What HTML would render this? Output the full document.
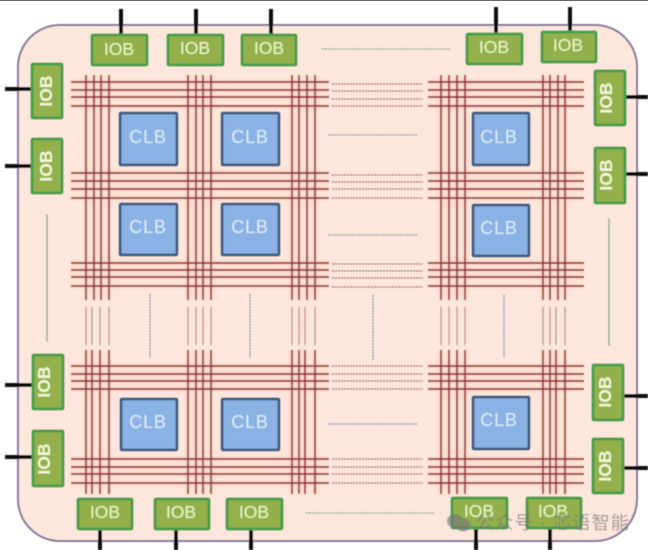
<!DOCTYPE html>
<html><head><meta charset="utf-8"><style>
html,body{margin:0;padding:0;background:#fff}
svg{display:block}
.i{font-family:"Liberation Sans",sans-serif;font-size:17.5px;fill:#eef5c4;text-anchor:middle}
.c{font-family:"Liberation Sans",sans-serif;font-size:18px;fill:#dcecf8;text-anchor:middle;letter-spacing:.8px}
.v{font-weight:bold;fill:#f2f7d4}
</style></head><body>
<svg width="648" height="550" viewBox="0 0 648 550" xmlns="http://www.w3.org/2000/svg">
<defs><filter id="b" x="-5%" y="-5%" width="110%" height="110%"><feGaussianBlur stdDeviation="0.5"/></filter>
<filter id="g" x="-5%" y="-5%" width="110%" height="110%"><feGaussianBlur stdDeviation="1.6"/></filter></defs>
<rect width="648" height="1" fill="#666"/>
<g filter="url(#b)">
<rect x="18" y="25" width="619" height="516" rx="42" fill="#fde7dc" stroke="#85759a" stroke-width="2"/>
<g filter="url(#g)" stroke="#ffb9ac" stroke-width="3.5" opacity=".55">
<path d="M71 82H329M71 90H329M71 97H329M71 106H329M71 173H329M71 181H329M71 189H329M71 198H329M71 263H329M71 270H329M71 277H329M71 286H329M71 366H329M71 374H329M71 381H329M71 389H329M71 459H329M71 467H329M71 474H329M71 483H329"/>
<path d="M428 82H584M428 90H584M428 97H584M428 106H584M428 173H584M428 181H584M428 189H584M428 198H584M428 263H584M428 270H584M428 277H584M428 286H584M428 366H584M428 374H584M428 381H584M428 389H584M428 459H584M428 467H584M428 474H584M428 483H584"/>
<path d="M86 75V300M94 75V300M101 75V300M109 75V300M188 75V300M196 75V300M203 75V300M211 75V300M292 75V300M299 75V300M307 75V300M315 75V300M441 75V300M449 75V300M457 75V300M465 75V300M543 75V300M550 75V300M558 75V300M565 75V300"/>
<path d="M86 350V494M92 350V494M100 350V494M109 350V494M188 350V494M196 350V494M203 350V494M211 350V494M292 350V494M299 350V494M305 350V494M315 350V494M441 350V494M449 350V494M457 350V494M465 350V494M543 350V494M550 350V494M556 350V494M565 350V494"/>
</g>
<g stroke="#8f3535" stroke-width="1.7" fill="none">
<path d="M71 82H329M71 90H329M71 97H329M71 106H329M71 173H329M71 181H329M71 189H329M71 198H329M71 263H329M71 270H329M71 277H329M71 286H329M71 366H329M71 374H329M71 381H329M71 389H329M71 459H329M71 467H329M71 474H329M71 483H329"/>
<path d="M428 82H584M428 90H584M428 97H584M428 106H584M428 173H584M428 181H584M428 189H584M428 198H584M428 263H584M428 270H584M428 277H584M428 286H584M428 366H584M428 374H584M428 381H584M428 389H584M428 459H584M428 467H584M428 474H584M428 483H584"/>
<path d="M86 75V300M94 75V300M101 75V300M109 75V300M188 75V300M196 75V300M203 75V300M211 75V300M292 75V300M299 75V300M307 75V300M315 75V300M441 75V300M449 75V300M457 75V300M465 75V300M543 75V300M550 75V300M558 75V300M565 75V300"/>
<path d="M86 350V494M92 350V494M100 350V494M109 350V494M188 350V494M196 350V494M203 350V494M211 350V494M292 350V494M299 350V494M305 350V494M315 350V494M441 350V494M449 350V494M457 350V494M465 350V494M543 350V494M550 350V494M556 350V494M565 350V494"/>
</g>
<g stroke="#c39288" stroke-width="1.4" fill="none">
<path d="M86 307V345M92 307V345M100 307V345M109 307V345M188 307V345M196 307V345M203 307V345M211 307V345M292 307V345M299 307V345M305 307V345M315 307V345M441 307V345M449 307V345M457 307V345M465 307V345M543 307V345M550 307V345M556 307V345M565 307V345"/>
</g>
<g stroke="#9c4c4a" stroke-width="1.3" stroke-dasharray="2 1" fill="none">
<path d="M332 84H423M332 91H423M332 99H423M332 106H423M332 175H423M332 182H423M332 189H423M332 198H423M332 264H423M332 271H423M332 278H423M332 287H423M332 366H423M332 374H423M332 381H423M332 389H423M332 459H423M332 467H423M332 474H423M332 483H423"/>
</g>
<g stroke-width="1.3" stroke-dasharray="2 1" fill="none">
<path d="M322 49H451M306 513H435" stroke="#5f9a8c"/>
<path d="M328 135H417M328 235H417M328 424H417" stroke="#5f86a8"/>
<path d="M150 294V358M250 294V358M373 295V361M504 295V358" stroke="#5f86a8"/>
<path d="M47 214V342M609 218V346" stroke="#7aaa80" stroke-dasharray="none"/>
</g>
<g stroke="#0a0a0a" stroke-width="4" fill="none">
<path d="M121 9V34M196 9V34M271 9V34M496 7V33M570 7V31"/>
<path d="M5 89H31M5 166H31M5 385H32M5 457H32"/>
<path d="M626 97H648M626 174H648M624 396H648M624 468H648"/>
<path d="M100 530V550M176 530V550M251 530V550M476 529V550M550 529V550"/>
</g>
<g fill="#8ab2e4" stroke="#3f5a80" stroke-width="2.8">
<rect x="120" y="113" width="57" height="52" rx="1"/>
<rect x="222" y="113" width="57" height="52" rx="1"/>
<rect x="473" y="113" width="56" height="52" rx="1"/>
<rect x="120" y="204" width="57" height="51" rx="1"/>
<rect x="222" y="204" width="57" height="51" rx="1"/>
<rect x="473" y="205" width="56" height="51" rx="1"/>
<rect x="121" y="399" width="56" height="51" rx="1"/>
<rect x="222" y="399" width="57" height="51" rx="1"/>
<rect x="473" y="397" width="56" height="52" rx="1"/>
</g>
<text class="c" x="148" y="143">CLB</text><text class="c" x="250" y="143">CLB</text><text class="c" x="499" y="143">CLB</text>
<text class="c" x="148" y="233">CLB</text><text class="c" x="250" y="233">CLB</text><text class="c" x="499" y="234">CLB</text>
<text class="c" x="148" y="428">CLB</text><text class="c" x="250" y="428">CLB</text><text class="c" x="499" y="426">CLB</text>
<g fill="#93b04e" stroke="#479f4a" stroke-width="3">
<rect x="92" y="35" width="55" height="30" rx="1"/><rect x="168" y="35" width="55" height="30" rx="1"/><rect x="242" y="35" width="54" height="30" rx="1"/>
<rect x="467" y="34" width="55" height="30" rx="1"/><rect x="542" y="32" width="54" height="30" rx="1"/>
<rect x="32" y="64" width="30" height="54" rx="1"/><rect x="32" y="139" width="30" height="54" rx="1"/>
<rect x="33" y="355" width="30" height="54" rx="1"/><rect x="33" y="431" width="30" height="55" rx="1"/>
<rect x="595" y="71" width="30" height="54" rx="1"/><rect x="595" y="148" width="30" height="55" rx="1"/>
<rect x="593" y="365" width="30" height="55" rx="1"/><rect x="593" y="439" width="30" height="54" rx="1"/>
<rect x="78" y="499" width="54" height="30" rx="1"/><rect x="155" y="499" width="54" height="30" rx="1"/><rect x="227" y="499" width="55" height="30" rx="1"/>
<rect x="452" y="498" width="55" height="30" rx="1"/><rect x="527" y="498" width="54" height="30" rx="1"/>
</g>
<text class="i" x="119" y="55">IOB</text><text class="i" x="195" y="54">IOB</text><text class="i" x="269" y="54">IOB</text>
<text class="i" x="494" y="53">IOB</text><text class="i" x="568" y="51">IOB</text>
<text class="i" x="105" y="518">IOB</text><text class="i" x="181" y="518">IOB</text><text class="i" x="254" y="518">IOB</text>
<text class="i" x="479" y="517">IOB</text><text class="i" x="553" y="517">IOB</text>
<text class="i v" transform="translate(52,91) rotate(-90)">IOB</text>
<text class="i v" transform="translate(52,166) rotate(-90)">IOB</text>
<text class="i v" transform="translate(50,382) rotate(-90)">IOB</text>
<text class="i v" transform="translate(50,459) rotate(-90)">IOB</text>
<text class="i v" transform="translate(612,98) rotate(-90)">IOB</text>
<text class="i v" transform="translate(612,175) rotate(-90)">IOB</text>
<text class="i v" transform="translate(611,392) rotate(-90)">IOB</text>
<text class="i v" transform="translate(611,466) rotate(-90)">IOB</text>
<g fill="#777" opacity=".65">
<ellipse cx="455" cy="521" rx="8" ry="7"/>
<ellipse cx="463" cy="525" rx="7.5" ry="6.5"/>
</g>
<text x="476" y="529" font-family="'Liberation Sans','Noto Sans CJK SC',sans-serif" font-size="18" fill="#777" opacity=".7" letter-spacing="1.2">公众号 · 芯语智能</text>
</g>
</svg>
</body></html>
